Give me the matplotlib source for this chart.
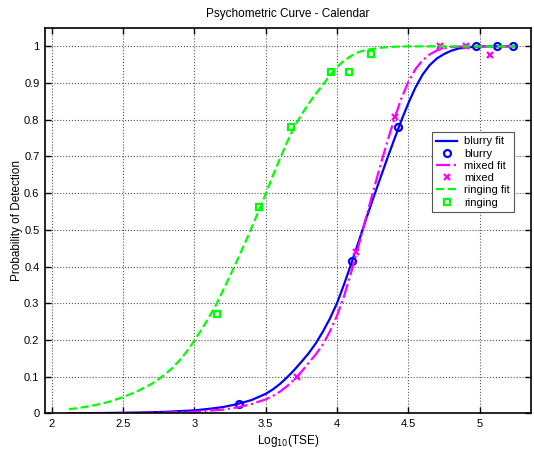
import numpy as np
import matplotlib
matplotlib.use("Agg")
import matplotlib.pyplot as plt

plt.rcParams['font.family'] = ['Liberation Sans', 'DejaVu Sans']
plt.rcParams['font.size'] = 8

# measured points
blurryX = [3.31, 4.105, 4.43, 4.973, 5.12, 5.237]
blurryY = [0.026, 0.415, 0.78, 1.0, 1.0, 1.0]
mixedX = [3.717, 4.133, 4.406, 4.72, 4.905, 5.07]
mixedY = [0.099, 0.44, 0.807, 1.0, 1.0, 0.977]
ringingX = [3.157, 3.452, 3.68, 3.96, 4.086, 4.235]
ringingY = [0.27, 0.561, 0.78, 0.929, 0.929, 0.978]

# fitted curves
blurryFitX = [2.12, 2.4, 2.6, 2.8, 3.0, 3.1, 3.2, 3.3, 3.4, 3.5, 3.55, 3.6, 3.65,
              3.7, 3.75, 3.8, 3.85, 3.9, 3.95, 4.0, 4.05, 4.1, 4.15, 4.2, 4.25,
              4.3, 4.35, 4.4, 4.45, 4.5, 4.55, 4.6, 4.65, 4.7, 4.75, 4.8, 4.85,
              4.9, 5.0, 5.25]
blurryFitY = [0.0, 0.001, 0.002, 0.004, 0.008, 0.012, 0.017, 0.025, 0.036, 0.053,
              0.065, 0.080, 0.098, 0.118, 0.140, 0.163, 0.190, 0.222, 0.258, 0.300,
              0.352, 0.408, 0.466, 0.525, 0.582, 0.637, 0.692, 0.745, 0.797, 0.845,
              0.888, 0.923, 0.949, 0.967, 0.979, 0.988, 0.994, 0.997, 1.0, 1.0]
mixedFitX = [2.12, 2.6, 2.8, 3.0, 3.1, 3.2, 3.3, 3.4, 3.5, 3.55, 3.6, 3.65, 3.7,
             3.75, 3.8, 3.85, 3.9, 3.95, 4.0, 4.05, 4.1, 4.15, 4.2, 4.25, 4.3,
             4.35, 4.4, 4.45, 4.5, 4.55, 4.6, 4.65, 4.7, 4.75, 4.8, 4.9, 5.25]
mixedFitY = [0.0, 0.001, 0.002, 0.004, 0.007, 0.010, 0.016, 0.025, 0.038, 0.047,
             0.059, 0.074, 0.092, 0.113, 0.137, 0.160, 0.187, 0.223, 0.266, 0.320,
             0.385, 0.455, 0.528, 0.600, 0.670, 0.737, 0.800, 0.857, 0.903, 0.938,
             0.962, 0.978, 0.989, 0.995, 0.998, 1.0, 1.0]
ringingFitX = [2.12, 2.2, 2.3, 2.4, 2.5, 2.6, 2.7, 2.75, 2.8, 2.85, 2.9, 2.95, 3.0,
               3.05, 3.1, 3.15, 3.2, 3.25, 3.3, 3.35, 3.4, 3.45, 3.5, 3.55, 3.6,
               3.65, 3.7, 3.75, 3.8, 3.85, 3.9, 3.95, 4.0, 4.05, 4.1, 4.15, 4.2,
               4.3, 4.4, 4.5, 5.25]
ringingFitY = [0.011, 0.015, 0.022, 0.031, 0.044, 0.060, 0.080, 0.093, 0.108,
               0.125, 0.146, 0.170, 0.198, 0.228, 0.260, 0.294, 0.334, 0.375,
               0.417, 0.460, 0.504, 0.551, 0.598, 0.647, 0.694, 0.739, 0.780,
               0.813, 0.843, 0.870, 0.895, 0.921, 0.944, 0.961, 0.974, 0.984,
               0.990, 0.996, 0.999, 1.0, 1.0]

xTicks = [2, 2.5, 3, 3.5, 4, 4.5, 5]
xTickLabels = ["2", "2.5", "3", "3.5", "4", "4.5", "5"]
yTicks = [0, 0.1, 0.2, 0.3, 0.4, 0.5, 0.6, 0.7, 0.8, 0.9, 1.0]
yTickLabels = ["0", "0.1", "0.2", "0.3", "0.4", "0.5", "0.6", "0.7", "0.8", "0.9", "1"]

fig = plt.figure(figsize=(5.34, 4.49), dpi=100)
ax = fig.add_axes([0.0843, 0.0795, 0.9101, 0.8581])

ax.plot(blurryFitX, blurryFitY, '-', color=(0, 0, 1), lw=1.6, label='blurry fit')
ax.plot(blurryX, blurryY, 'o', color=(0, 0, 1), mfc='none', ms=5, mew=1.6, label='blurry')
ax.plot(mixedFitX, mixedFitY, '-.', color=(1, 0, 1), lw=1.6, label='mixed fit')
ax.plot(mixedX, mixedY, 'x', color=(1, 0, 1), ms=5, mew=1.6, label='mixed')
ax.plot(ringingFitX, ringingFitY, '--', color=(0, 1, 0), lw=1.6, label='ringing fit')
ax.plot(ringingX, ringingY, 's', color=(0, 1, 0), mfc='none', ms=4.5, mew=1.6, label='ringing')

ax.set_xlim(1.953, 5.36)
ax.set_ylim(0, 1.05)
ax.set_xticks(xTicks)
ax.set_xticklabels(xTickLabels)
ax.set_yticks(yTicks)
ax.set_yticklabels(yTickLabels)
ax.tick_params(direction='in', length=4, width=1, top=True, right=True, pad=4)
ax.grid(True, linestyle=':', color='#555555', linewidth=0.8)
for sp in ax.spines.values():
    sp.set_linewidth(1.2)

ax.set_title("Psychometric Curve - Calendar", fontsize=8.5, pad=8)
ax.set_xlabel("Log$_{10}$(TSE)", fontsize=8.5, labelpad=3)
ax.set_ylabel("Probability of Detection", fontsize=8.5, labelpad=1)

leg = ax.legend(loc='upper left', bbox_to_anchor=(0.796, 0.73), fancybox=False,
                framealpha=1, edgecolor='#555555', fontsize=8, handlelength=1.9,
                borderpad=0.4, labelspacing=0.2, handletextpad=0.6, borderaxespad=0)
leg.get_frame().set_linewidth(0.8)

fig.savefig("out.png", dpi=100)
